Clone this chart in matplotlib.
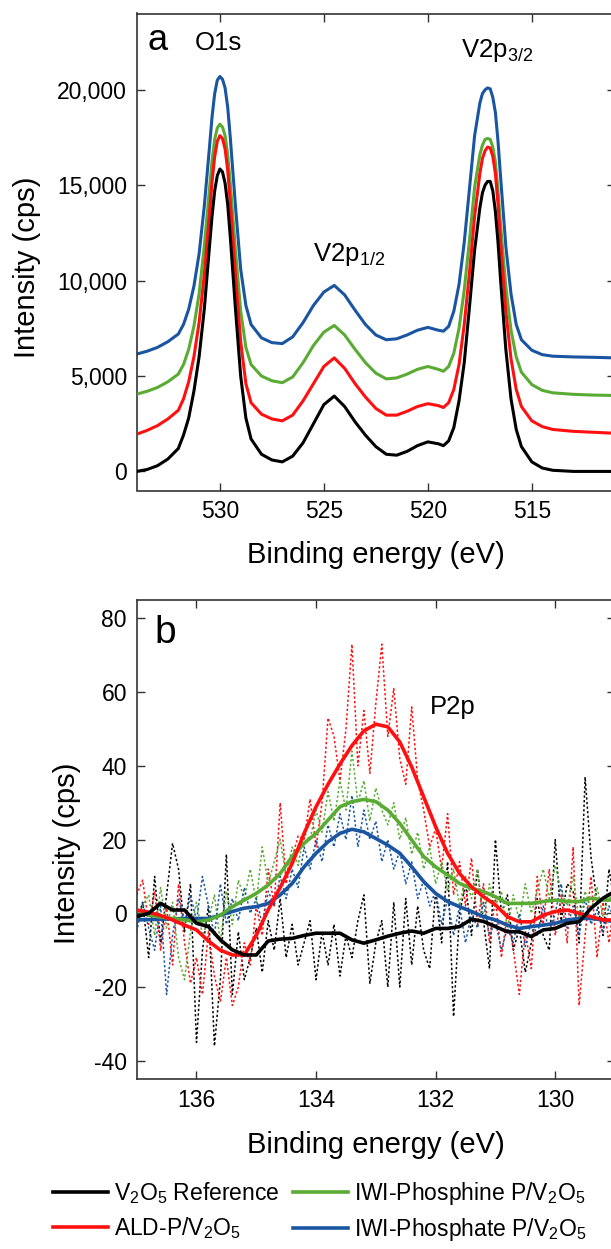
import numpy as np
import matplotlib
matplotlib.use("Agg")
import matplotlib.pyplot as plt
from matplotlib.ticker import FuncFormatter

plt.rcParams['font.family'] = ['Liberation Sans', 'DejaVu Sans']
plt.rcParams['mathtext.fontset'] = 'custom'
plt.rcParams['mathtext.rm'] = 'Liberation Sans'
plt.rcParams['mathtext.it'] = 'Liberation Sans:italic'
plt.rcParams['mathtext.bf'] = 'Liberation Sans:bold'
plt.rcParams['mathtext.default'] = 'regular'
plt.rcParams['axes.unicode_minus'] = False

# ---------------- Panel a data (O1s / V2p region) ----------------
energy_a = [534, 533.5, 533, 532.5, 532, 531.75, 531.5, 531.25, 531, 530.75,
            530.5, 530.375, 530.25, 530.125, 530, 529.875, 529.75, 529.625, 529.5,
            529.25, 529, 528.75, 528.5, 528, 527.5, 527, 526.5, 526,
            525.5, 525, 524.5, 524, 523.5, 523, 522.5, 522, 521.5, 521, 520.5, 520, 519.5,
            519.25, 519, 518.75, 518.5, 518.25, 518, 517.75,
            517.5, 517.375, 517.25, 517.125, 517, 516.875, 516.75, 516.625, 516.5,
            516.25, 516, 515.75, 515.5, 515, 514.5, 514, 513, 512, 511]

ref_a = [0, 100, 300, 650, 1200, 1900, 2800, 4200, 6000, 8500,
         11800, 13400, 14700, 15500, 15850, 15700, 15100, 14000, 12300,
         8500, 5000, 2800, 1700, 900, 600, 500, 800, 1500,
         2500, 3500, 3950, 3400, 2600, 1900, 1300, 900, 850, 1050, 1350, 1550, 1450,
         1350, 1600, 2300, 3700, 5700, 8600, 11600,
         13800, 14600, 15000, 15200, 15200, 14700, 13600, 12000, 10000,
         6400, 3800, 2200, 1300, 500, 180, 60, 0, 0, 0]

ald_a = [1950, 2150, 2400, 2750, 3200, 3800, 4700, 6000, 7800, 10300,
         13500, 15200, 16500, 17300, 17600, 17450, 16900, 15800, 14100,
         10300, 6800, 4600, 3600, 3000, 2750, 2650, 2950, 3700,
         4600, 5500, 5950, 5400, 4600, 3900, 3300, 2950, 2950, 3150, 3400, 3550, 3450,
         3350, 3600, 4300, 5600, 7700, 10400, 13400,
         15600, 16400, 16800, 17000, 16950, 16500, 15600, 14000, 12000,
         8400, 5900, 4300, 3400, 2650, 2350, 2200, 2100, 2050, 2000]

phosphine_a = [4050, 4200, 4400, 4700, 5100, 5600, 6400, 7600, 9300, 11800,
               14800, 16300, 17400, 18000, 18200, 18050, 17600, 16600, 15100,
               11600, 8400, 6500, 5600, 5000, 4750, 4650, 4950, 5700,
               6600, 7300, 7650, 7150, 6400, 5700, 5150, 4850, 4900, 5100, 5350, 5500, 5350,
               5250, 5500, 6200, 7500, 9500, 12100, 14900,
               16600, 17100, 17400, 17450, 17400, 17000, 16200, 14700, 12900,
               9700, 7400, 6000, 5200, 4550, 4250, 4120, 4040, 4000, 3980]

phosphate_a = [6150, 6300, 6500, 6800, 7200, 7700, 8500, 9700, 11400, 13900,
               17000, 18600, 19800, 20500, 20700, 20550, 20100, 19100, 17500,
               13900, 10600, 8700, 7700, 7000, 6750, 6700, 7050, 7800,
               8700, 9400, 9750, 9250, 8450, 7700, 7150, 6900, 6950, 7150, 7400, 7550, 7400,
               7350, 7600, 8400, 9800, 12000, 14800, 17600,
               19300, 19800, 20000, 20100, 20050, 19600, 18800, 17300, 15400,
               11800, 9300, 7700, 6900, 6350, 6120, 6040, 6000, 5980, 5950]

# ---------------- Panel b data (P2p region) ----------------
energy_b_smooth = [137.0, 136.8, 136.6, 136.4, 136.2, 136.0, 135.8, 135.6, 135.4, 135.2, 135.0,
                   134.8, 134.6, 134.4, 134.2, 134.0, 133.8, 133.6, 133.4, 133.2, 133.0,
                   132.8, 132.6, 132.4, 132.2, 132.0, 131.8, 131.6, 131.4, 131.2, 131.0,
                   130.8, 130.6, 130.4, 130.2, 130.0, 129.8, 129.6, 129.4, 129.2, 129.0]

ref_b_smooth = [-0.9, 0.0, 2.7, 0.9, 0.9, -2.7, -3.6, -7.2, -9.9, -11.3, -11.3,
                -7.5, -7.0, -6.8, -6.0, -5.4, -5.4, -5.4, -7.2, -8.1, -7.2,
                -6.2, -5.4, -4.8, -5.4, -4.1, -4.1, -3.6, -1.6, -2.2, -3.6,
                -5.0, -5.0, -6.3, -4.5, -4.1, -2.7, -2.3, 1.4, 4.1, 6.0]

ald_b_smooth = [0.9, 0.3, -0.6, -1.8, -3.2, -4.5, -7.5, -10.0, -11.3, -11.3, -6.0,
                1.0, 7.0, 13.5, 21.7, 28.9, 35.0, 40.5, 45.5, 49.5, 51.3,
                50.6, 46.5, 39.7, 31.6, 23.5, 16.3, 10.8, 7.2, 4.5, 2.3,
                -0.9, -2.3, -2.3, -0.5, 0.5, 0.9, 0.0, -0.9, -1.8, -1.8]

phosphine_b_smooth = [0.9, -0.5, -1.0, -1.4, -1.8, -2.3, -1.8, -0.5, 1.8, 3.6, 5.4,
                      7.7, 10.8, 15.4, 19.0, 21.7, 25.3, 28.9, 30.3, 30.9, 30.3,
                      28.0, 24.4, 19.9, 15.4, 12.6, 10.4, 8.1, 6.8, 5.9, 4.5,
                      2.7, 2.7, 2.7, 3.2, 3.6, 3.2, 3.2, 4.1, 3.6, 3.6]

phosphate_b_smooth = [-1.8, -1.7, -1.6, -1.5, -1.4, -1.4, -1.4, -0.5, 0.5, 1.4, 1.8,
                      2.7, 5.0, 8.1, 12.6, 16.3, 19.4, 21.7, 22.8, 22.1, 20.3,
                      18.5, 16.3, 12.6, 8.6, 5.4, 3.2, 1.8, 0.5, -0.9, -1.8,
                      -3.2, -4.1, -3.6, -3.2, -2.7, -1.8, -1.4, -1.4, -1.8, -2.3]

energy_b_raw = [137.0, 136.9, 136.8, 136.7, 136.6, 136.5, 136.4, 136.3, 136.2, 136.1,
                136.0, 135.9, 135.8, 135.7, 135.6, 135.5, 135.4, 135.3, 135.2, 135.1,
                135.0, 134.9, 134.8, 134.7, 134.6, 134.5, 134.4, 134.3, 134.2, 134.1,
                134.0, 133.9, 133.8, 133.7, 133.6, 133.5, 133.4, 133.3, 133.2, 133.1,
                133.0, 132.9, 132.8, 132.7, 132.6, 132.5, 132.4, 132.3, 132.2, 132.1,
                132.0, 131.9, 131.8, 131.7, 131.6, 131.5, 131.4, 131.3, 131.2, 131.1,
                131.0, 130.9, 130.8, 130.7, 130.6, 130.5, 130.4, 130.3, 130.2, 130.1,
                130.0, 129.9, 129.8, 129.7, 129.6, 129.5, 129.4, 129.3, 129.2, 129.1, 129.0]

ref_b_raw = [-2, 3, -12, 10, -8, 5, 19, 12, -5, 8,
             -35, -10, 2, -36, -18, 16, -22, -5, -18, -12,
             -4, -16, -2, -10, 4, -12, -3, -14, -8, -2,
             -18, -5, -14, -3, -17, -6, -12, -2, 5, -19,
             -8, -2, -20, 3, -20, 4, -14, 2, -10, -15,
             6, -8, 14, -28, 0, 8, -6, 12, -2, -15,
             20, 0, 5, -10, -4, -16, -8, 4, -6, -10,
             20, -2, 8, 6, -8, 37, 15, 3, -6, 12, 2]

ald_b_raw = [5, 9, -3, 6, -10, 2, -14, 8, -8, -19,
             -12, -22, -5, -17, -24, -12, -25, -20, -8, -14,
             2, -6, 12, 2, 30, 8, 15, 21, 20, 31,
             18, 30, 53, 48, 36, 50, 73, 40, 55, 38,
             57, 73, 48, 61, 42, 35, 56, 36, 28, 18,
             23, 12, 27, 5, 14, 2, 15, -3, 8, -8,
             4, -12, 0, -10, -22, -5, -15, 10, -3, 12,
             -6, 5, -8, 18, -25, -6, 10, -12, 3, -8, 5]

phosphine_b_raw = [-3, 2, 5, -6, 7, -4, 3, -12, -18, -5,
                   3, -6, -2, 5, -8, 6, -3, 9, 4, 12,
                   3, 18, 8, 14, 20, 10, 18, 13, 22, 20,
                   28, 22, 33, 25, 36, 28, 44, 30, 36, 25,
                   34, 28, 24, 30, 20, 26, 16, 22, 12, 18,
                   8, 14, 6, 12, 2, 10, 4, 12, -2, 8,
                   2, 6, -4, 5, -2, 8, 0, 6, 12, 4,
                   13, 6, 2, 10, -2, 6, 1, 7, -1, 5, 2]

phosphate_b_raw = [-5, 3, -4, -10, 2, -22, -6, 4, -3, 5,
                   -2, 10, 2, -6, 8, -3, 4, -2, 7, 0,
                   4, -3, 6, 2, 10, 4, 12, 7, 18, 12,
                   20, 14, 24, 18, 27, 20, 32, 18, 28, 20,
                   25, 14, 20, 12, 17, 8, 14, 4, 9, 2,
                   6, -3, 4, -6, 2, -8, 0, -4, 3, -6,
                   -2, -10, -4, -8, 0, -9, -2, -6, 2, -5,
                   0, 8, -4, 2, -6, 4, -3, 1, -5, 2, -2]

labels = [r'V$_2$O$_5$ Reference', r'ALD-P/V$_2$O$_5$',
          r'IWI-Phosphine P/V$_2$O$_5$', r'IWI-Phosphate P/V$_2$O$_5$']
colors = ['#000000', '#ff1010', '#5aab34', '#1a55a2']

# ---------------- Figure ----------------
W, H = 611, 1249
fig = plt.figure(figsize=(W / 100, H / 100), dpi=100)

def axpos(l, t, r, b):
    return [l / W, 1 - b / H, (r - l) / W, (b - t) / H]

ax_a = fig.add_axes(axpos(136.7, 13.5, 615, 490.5))
ax_b = fig.add_axes(axpos(136.7, 600.0, 615, 1079.2))

tick_fs = 16.5
label_fs = 21
ann_fs = 18.5

for ax in (ax_a, ax_b):
    ax.tick_params(direction='in', top=True, right=True, length=6, width=1.0,
                   labelsize=tick_fs, pad=7, color='#333333')
    for sp in ax.spines.values():
        sp.set_linewidth(1.2)
        sp.set_color('#333333')

# Panel a
series_a = [ref_a, ald_a, phosphine_a, phosphate_a]
for i in [3, 2, 1, 0]:
    ax_a.plot(energy_a, series_a[i], color=colors[i], lw=2.2, zorder=2 + (3 - i),
              solid_joinstyle='round')
ax_a.set_xlim(534, 511)
ax_a.set_ylim(-1000, 24000)
ax_a.set_xticks([530, 525, 520, 515])
ax_a.set_yticks([0, 5000, 10000, 15000, 20000])
ax_a.yaxis.set_major_formatter(FuncFormatter(lambda v, p: f'{v:,.0f}'))
ax_a.set_xlabel('Binding energy (eV)', fontsize=label_fs, labelpad=13)
ax_a.set_ylabel('Intensity (cps)', fontsize=label_fs)
ax_a.yaxis.set_label_coords(-0.200, 0.468)
ax_a.text(533.5, 22100, 'a', fontsize=26)
ax_a.text(531.2, 22100, 'O1s', fontsize=ann_fs)
ax_a.text(518.4, 21700, r'V2p$_{3/2}$', fontsize=ann_fs)
ax_a.text(525.5, 11050, r'V2p$_{1/2}$', fontsize=ann_fs)

# Panel b
raw_b = [ref_b_raw, ald_b_raw, phosphine_b_raw, phosphate_b_raw]
smooth_b = [ref_b_smooth, ald_b_smooth, phosphine_b_smooth, phosphate_b_smooth]
for i in [0, 1, 2, 3]:
    ax_b.plot(energy_b_raw, raw_b[i], color=colors[i], lw=1.1,
              linestyle=(0, (1.5, 1.5)), zorder=1)
handles = [None] * 4
for i in [3, 2, 1, 0]:
    handles[i], = ax_b.plot(energy_b_smooth, smooth_b[i], color=colors[i], lw=2.6,
                            zorder=3 + (3 - i), solid_joinstyle='round')
ax_b.set_xlim(137, 129)
ax_b.set_ylim(-45, 85)
ax_b.set_xticks([136, 134, 132, 130])
ax_b.set_yticks([-40, -20, 0, 20, 40, 60, 80])
ax_b.set_xlabel('Binding energy (eV)', fontsize=label_fs, labelpad=14)
ax_b.set_ylabel('Intensity (cps)', fontsize=label_fs)
ax_b.yaxis.set_label_coords(-0.116, 0.472)
ax_b.text(136.71, 73.4, 'b', fontsize=28)
ax_b.text(132.09, 54.2, 'P2p', fontsize=ann_fs)

leg = fig.legend(handles, labels, ncol=2, loc='upper left',
                 bbox_to_anchor=(53 / W, 1 - 1180 / H), frameon=False,
                 fontsize=16.5, handlelength=2.4, handletextpad=0.25,
                 columnspacing=0.6, labelspacing=0.38, borderpad=0, borderaxespad=0)
for lh in leg.get_lines():
    lh.set_linewidth(2.6)

fig.savefig('out.png', dpi=100)
